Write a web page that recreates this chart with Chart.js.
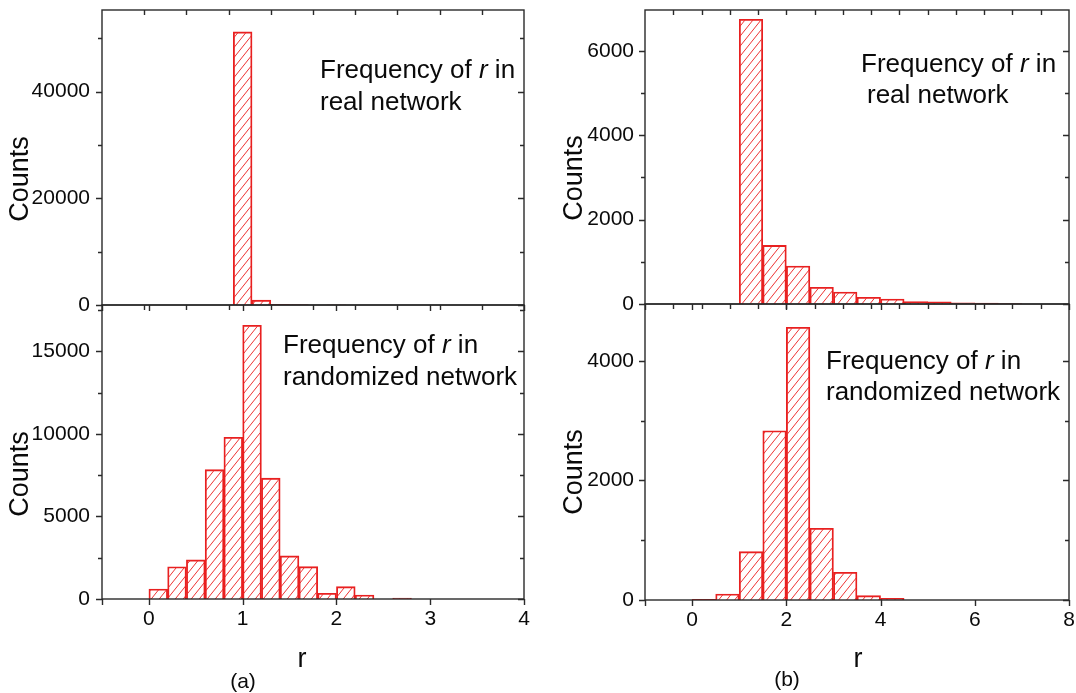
<!DOCTYPE html>
<html>
<head>
<meta charset="utf-8">
<script src="https://cdn.jsdelivr.net/npm/chart.js@4.4.0/dist/chart.umd.min.js"></script>
<style>
    body { margin: 0; background: #fff; width: 1076px; height: 693px; overflow: hidden; position: relative; }
    .panel { position: absolute; }
</style>
</head>
<body>
<div class="panel" style="left:0;top:0"><canvas id="realA" width="540" height="312"></canvas></div>
<div class="panel" style="left:0;top:298px"><canvas id="randA" width="540" height="395"></canvas></div>
<div class="panel" style="left:545px;top:0"><canvas id="realB" width="531" height="311"></canvas></div>
<div class="panel" style="left:545px;top:297px"><canvas id="randB" width="531" height="396"></canvas></div>
<script>
// ---- data (bin centres and counts) ----
var realA_r = [0.8, 1.0, 1.2, 1.4, 1.6, 1.8, 2.0, 2.2];
var realA_counts = [0, 51200, 900, 130, 100, 0, 50, 0];

var randA_r = [0.1, 0.3, 0.5, 0.7, 0.9, 1.1, 1.3, 1.5, 1.7, 1.9, 2.1, 2.3, 2.5, 2.7, 2.9];
var randA_counts = [600, 1950, 2370, 7830, 9790, 16570, 7320, 2610, 1960, 345, 750, 240, 0, 60, 0];

var realB_r = [0.25, 0.75, 1.25, 1.75, 2.25, 2.75, 3.25, 3.75, 4.25, 4.75, 5.25, 5.75, 6.25, 6.75, 7.25];
var realB_counts = [0, 0, 6750, 1390, 900, 395, 284, 158, 118, 60, 50, 25, 20, 10, 0];

var randB_r = [0.25, 0.75, 1.25, 1.75, 2.25, 2.75, 3.25, 3.75, 4.25, 4.75, 5.25];
var randB_counts = [10, 100, 808, 2830, 4560, 1200, 463, 72, 28, 0, 0];

// ---- axis ticks ----
var xTicksA = [0, 1, 2, 3, 4];
var xTicksB = [0, 2, 4, 6, 8];
var yTicksRealA = [0, 20000, 40000];
var yMinorRealA = [10000, 30000, 50000];
var yTicksRandA = [0, 5000, 10000, 15000];
var yMinorRandA = [2500, 7500, 12500, 17500];
var yTicksRealB = [0, 2000, 4000, 6000];
var yMinorRealB = [1000, 3000, 5000];
var yTicksRandB = [0, 2000, 4000];
var yMinorRandB = [1000, 3000];

var FONT = '"Liberation Sans", Arial, Helvetica, sans-serif';
var INK = '#0a0a0a';

function hatch(color) {
    var w = 8, h = 10;
    var c = document.createElement('canvas');
    c.width = w; c.height = h;
    var g = c.getContext('2d');
    g.strokeStyle = color;
    g.lineWidth = 1;
    for (var k = -1; k <= 1; k++) {
        g.beginPath();
        g.moveTo(k * w, h);
        g.lineTo((k + 1) * w, 0);
        g.stroke();
    }
    return g.createPattern(c, 'repeat');
}

// frame, tick marks and free text, Origin style
var framePlugin = {
    id: 'frame',
    afterDraw: function (chart, args, o) {
        var ctx = chart.ctx, a = chart.chartArea,
            xs = chart.scales.x, ys = chart.scales.y;
        ctx.save();
        ctx.strokeStyle = '#2a2a2a';
        ctx.lineWidth = 1.4;
        ctx.strokeRect(a.left, a.top, a.right - a.left, a.bottom - a.top);
        ctx.beginPath();
        o.yMajor.forEach(function (v) {
            var y = Math.round(ys.getPixelForValue(v)) + 0.5;
            ctx.moveTo(a.left - 6, y); ctx.lineTo(a.left, y);
            ctx.moveTo(a.right, y); ctx.lineTo(a.right - 6, y);
        });
        o.yMinor.forEach(function (v) {
            var y = Math.round(ys.getPixelForValue(v)) + 0.5;
            ctx.moveTo(a.left - 4, y); ctx.lineTo(a.left, y);
            ctx.moveTo(a.right, y); ctx.lineTo(a.right - 4, y);
        });
        o.xMajor.concat([xs.min]).forEach(function (v) {
            var x = Math.round(xs.getPixelForValue(v)) + 0.5;
            ctx.moveTo(x, a.bottom); ctx.lineTo(x, a.bottom + 6);
        });
        for (var i = 1; i < o.topDiv; i++) {
            var x = Math.round(a.left + (a.right - a.left) * i / o.topDiv) + 0.5;
            ctx.moveTo(x, a.top); ctx.lineTo(x, a.top + 5);
        }
        ctx.stroke();

        ctx.fillStyle = INK;
        ctx.textBaseline = 'alphabetic';
        (o.notes || []).forEach(function (n) {
            var x = a.left + n.dx;
            n.parts.forEach(function (p) {
                ctx.font = (p.italic ? 'italic ' : '') + n.size + 'px ' + FONT;
                ctx.textAlign = 'left';
                ctx.fillText(p.t, x, a.top + n.dy);
                x += ctx.measureText(p.t).width;
            });
        });
        (o.labels || []).forEach(function (l) {
            ctx.save();
            ctx.translate(a.left + l.dx, a.top + l.dy);
            if (l.rotate) ctx.rotate(-Math.PI / 2);
            ctx.font = l.size + 'px ' + FONT;
            ctx.textAlign = 'center';
            ctx.textBaseline = 'middle';
            ctx.fillText(l.t, 0, 0);
            ctx.restore();
        });
        ctx.restore();
    }
};

function freqNote(dx, dy, dx2, dy2, second) {
    return [
        { dx: dx, dy: dy, size: 26, parts: [{ t: 'Frequency of ' }, { t: 'r', italic: true }, { t: ' in' }] },
        { dx: dx2, dy: dy2, size: 26, parts: [{ t: second }] }
    ];
}

function plain(v) { return String(v); }

function makePanel(id, p) {
    var ctx = document.getElementById(id).getContext('2d');
    var data = p.r.map(function (v, i) { return { x: v, y: p.counts[i] }; });
    return new Chart(ctx, {
        type: 'bar',
        data: {
            datasets: [{
                data: data,
                backgroundColor: hatch('rgba(236,40,40,0.95)'),
                borderColor: '#e82020',
                borderWidth: 1.2,
                barPercentage: 1,
                categoryPercentage: 1,
                grouped: false
            }]
        },
        options: {
            responsive: false,
            animation: false,
            events: [],
            layout: { padding: { top: p.padTop, right: p.padRight, left: 0, bottom: 0 } },
            plugins: {
                legend: { display: false },
                tooltip: { enabled: false },
                frame: {
                    yMajor: p.yTicks, yMinor: p.yMinor, xMajor: p.xTicks,
                    topDiv: p.topDiv, notes: p.notes, labels: p.labels
                }
            },
            scales: {
                x: {
                    type: 'linear',
                    offset: false,
                    min: p.xMin, max: p.xMax,
                    grid: { display: false, drawTicks: false },
                    border: { display: false },
                    afterBuildTicks: function (s) { s.ticks = p.xTicks.map(function (v) { return { value: v }; }); },
                    afterFit: function (s) {
                        s.height = p.xHeight;
                        s.paddingLeft = 0; s.paddingRight = 0;
                    },
                    ticks: {
                        display: p.showX,
                        padding: 8,
                        maxRotation: 0,
                        color: INK,
                        callback: plain,
                        font: { family: FONT, size: 21 }
                    }
                },
                y: {
                    min: 0, max: p.yMax,
                    grid: { display: false, drawTicks: false },
                    border: { display: false },
                    afterBuildTicks: function (s) { s.ticks = p.yTicks.map(function (v) { return { value: v }; }); },
                    afterFit: function (s) {
                        s.width = p.yWidth;
                        s.paddingTop = 0; s.paddingBottom = 0;
                    },
                    ticks: {
                        padding: p.yPad,
                        color: INK,
                        callback: plain,
                        font: { family: FONT, size: 21 }
                    }
                }
            }
        },
        plugins: [framePlugin]
    });
}

makePanel('realA', {
    r: realA_r, counts: realA_counts, xMin: -0.5, xMax: 4, yMax: 55300,
    xTicks: xTicksA, yTicks: yTicksRealA, yMinor: yMinorRealA, topDiv: 10,
    padTop: 10, padRight: 16, yWidth: 102, xHeight: 7, yPad: 12, showX: false,
    notes: freqNote(218, 68, 218, 100, 'real network'),
    labels: [{ t: 'Counts', dx: -81, dy: 169, size: 27, rotate: true }]
});
makePanel('randA', {
    r: randA_r, counts: randA_counts, xMin: -0.5, xMax: 4, yMax: 17800,
    xTicks: xTicksA, yTicks: yTicksRandA, yMinor: yMinorRandA, topDiv: 10,
    padTop: 7, padRight: 16, yWidth: 102, xHeight: 94, yPad: 12, showX: true,
    notes: freqNote(181, 48, 181, 80, 'randomized network'),
    labels: [
        { t: 'Counts', dx: -81, dy: 169, size: 27, rotate: true },
        { t: 'r', dx: 200, dy: 355, size: 27 },
        { t: '(a)', dx: 141, dy: 377, size: 21 }
    ]
});
makePanel('realB', {
    r: realB_r, counts: realB_counts, xMin: -1, xMax: 8, yMax: 6970,
    xTicks: xTicksB, yTicks: yTicksRealB, yMinor: yMinorRealB, topDiv: 15,
    padTop: 10, padRight: 7, yWidth: 100, xHeight: 7, yPad: 11, showX: false,
    notes: freqNote(216, 62, 222, 93, 'real network'),
    labels: [{ t: 'Counts', dx: -70, dy: 168, size: 27, rotate: true }]
});
makePanel('randB', {
    r: randB_r, counts: randB_counts, xMin: -1, xMax: 8, yMax: 4950,
    xTicks: xTicksB, yTicks: yTicksRandB, yMinor: yMinorRandB, topDiv: 15,
    padTop: 7, padRight: 7, yWidth: 100, xHeight: 93, yPad: 11, showX: true,
    notes: freqNote(181, 65, 181, 96, 'randomized network'),
    labels: [
        { t: 'Counts', dx: -70, dy: 168, size: 27, rotate: true },
        { t: 'r', dx: 213, dy: 356, size: 27 },
        { t: '(b)', dx: 142, dy: 376, size: 21 }
    ]
});
</script>
</body>
</html>
